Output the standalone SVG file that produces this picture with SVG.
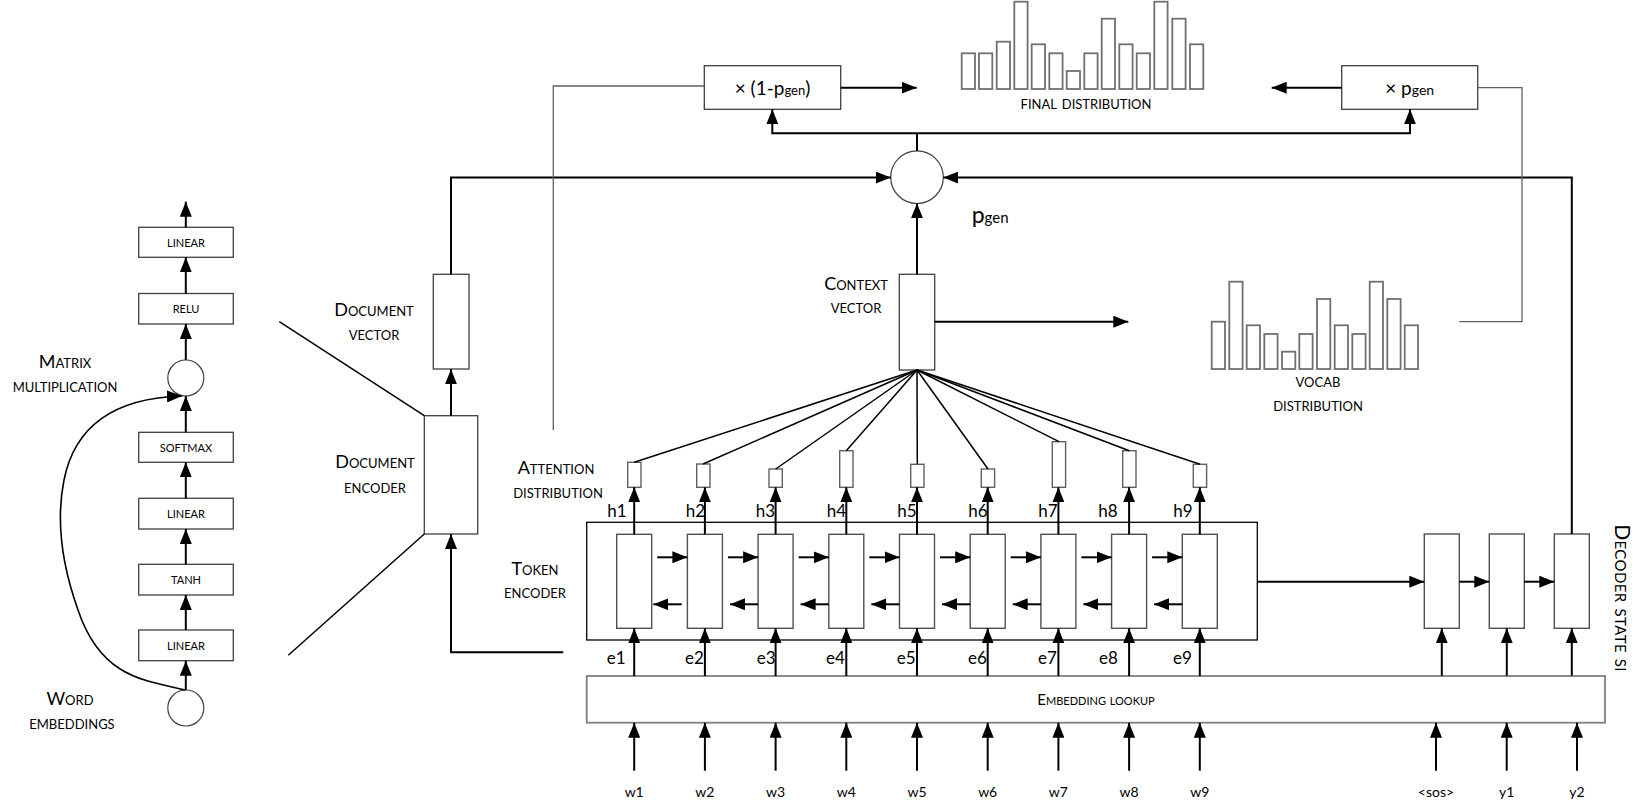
<svg xmlns="http://www.w3.org/2000/svg" width="1649" height="812" viewBox="0 0 1649 812">
<style>
text{font-family:Lato,"Liberation Sans",sans-serif;fill:#000}
.lbl{font-size:18px;font-variant:small-caps;text-anchor:middle}
.dlbl{font-size:19px;font-variant:small-caps;text-anchor:middle}
.blbl{font-size:15px;font-variant:small-caps;text-anchor:middle}
.var{font-size:17px}
.wv{font-size:14px;text-anchor:middle}
.box{fill:#fff;stroke:#404040;stroke-width:1.3}
.cell{fill:#fff;stroke:#505050;stroke-width:1.4}
.att{fill:#fff;stroke:#606060;stroke-width:1.4}
.bar{fill:#fff;stroke:#707070;stroke-width:1.8}
.circ{fill:#fff;stroke:#404040;stroke-width:1.2}
.con{fill:none;stroke:#000;stroke-width:2}
.arr{fill:none;stroke:#000;stroke-width:2;marker-end:url(#ah)}
.thin{fill:none;stroke:#606060;stroke-width:1.3}
.diag{fill:none;stroke:#000;stroke-width:1.5}
</style>
<defs>
<marker id="ah" markerUnits="userSpaceOnUse" markerWidth="16" markerHeight="12" refX="15" refY="6" orient="auto"><path d="M0,0 L15,6 L0,12 z" fill="#000"/></marker>
</defs>
<rect width="1649" height="812" fill="#fff"/>

<g id="mlp-linear3"><rect class="box" x="138.7" y="227.3" width="94.6" height="30"/><text class="blbl" x="186" y="246.7">linear</text></g>
<g id="mlp-relu"><rect class="box" x="138.7" y="293.5" width="94.6" height="30.5"/><text class="blbl" x="186" y="313.2">relu</text></g>
<g id="mlp-matmul"><circle class="circ" cx="185.8" cy="378" r="18"/></g>
<g id="mlp-softmax"><rect class="box" x="138.7" y="432.3" width="94.6" height="30"/><text class="blbl" x="186" y="451.7">softmax</text></g>
<g id="mlp-linear2"><rect class="box" x="138.7" y="498.3" width="94.6" height="30.7"/><text class="blbl" x="186" y="518">linear</text></g>
<g id="mlp-tanh"><rect class="box" x="138.7" y="564.3" width="94.6" height="30.7"/><text class="blbl" x="186" y="584">tanh</text></g>
<g id="mlp-linear1"><rect class="box" x="138.7" y="630" width="94.6" height="30.7"/><text class="blbl" x="186" y="649.7">linear</text></g>
<g id="mlp-embed"><circle class="circ" cx="185.8" cy="708" r="18"/></g>
<g id="label-matrix"><text class="lbl" x="65" y="368">Matrix</text><text class="lbl" x="65" y="391.7">multiplication</text></g>
<g id="label-word"><text class="lbl" x="70" y="705">Word</text><text class="lbl" x="72" y="728.5">embeddings</text></g>

<g id="doc-encoder"><rect class="box" x="424.3" y="415.7" width="53.4" height="118.3"/><text class="lbl" x="375" y="468.3">Document</text><text class="lbl" x="375" y="492.7">encoder</text></g>
<g id="doc-vector"><rect class="box" x="433.3" y="274.3" width="35.7" height="94.7"/><text class="lbl" x="374" y="315.7">Document</text><text class="lbl" x="374" y="340">vector</text></g>

<g id="token-encoder"><rect fill="none" stroke="#000" stroke-width="1.3" x="586.7" y="522.3" width="670.6" height="117.7"/>
<rect class="cell" x="616.7" y="534.3" width="35" height="94"/>
<rect class="cell" x="687.4" y="534.3" width="35" height="94"/>
<rect class="cell" x="758.1" y="534.3" width="35" height="94"/>
<rect class="cell" x="828.8" y="534.3" width="35" height="94"/>
<rect class="cell" x="899.5" y="534.3" width="35" height="94"/>
<rect class="cell" x="970.2" y="534.3" width="35" height="94"/>
<rect class="cell" x="1040.9" y="534.3" width="35" height="94"/>
<rect class="cell" x="1111.6" y="534.3" width="35" height="94"/>
<rect class="cell" x="1182.3" y="534.3" width="35" height="94"/>
<text class="lbl" x="535" y="575">Token</text><text class="lbl" x="535" y="598">encoder</text></g>

<g id="attention">
<rect class="att" x="627.7" y="462.3" width="13.3" height="25"/>
<rect class="att" x="696.7" y="464" width="13.3" height="23.3"/>
<rect class="att" x="769" y="469" width="13.3" height="18.3"/>
<rect class="att" x="839.7" y="450.7" width="13.3" height="36.6"/>
<rect class="att" x="910.7" y="464.3" width="13.3" height="23"/>
<rect class="att" x="981.3" y="469" width="13.3" height="18.3"/>
<rect class="att" x="1052.3" y="441.7" width="13.3" height="45.6"/>
<rect class="att" x="1122.7" y="450.7" width="13.3" height="36.6"/>
<rect class="att" x="1193.3" y="464.3" width="13.3" height="23"/>
<text class="lbl" x="556" y="474">Attention</text><text class="lbl" x="558" y="497.7">distribution</text></g>

<g id="h-labels">
<text class="var" x="607.3" y="516.7">h1</text><text class="var" x="685.7" y="516.7">h2</text><text class="var" x="755.7" y="516.7">h3</text><text class="var" x="826.7" y="516.7">h4</text><text class="var" x="897.3" y="516.7">h5</text><text class="var" x="968.3" y="516.7">h6</text><text class="var" x="1038.3" y="516.7">h7</text><text class="var" x="1098.3" y="516.7">h8</text><text class="var" x="1173.3" y="516.7">h9</text>
</g>
<g id="e-labels">
<text class="var" x="606.7" y="664">e1</text><text class="var" x="685" y="664">e2</text><text class="var" x="756.7" y="664">e3</text><text class="var" x="826" y="664">e4</text><text class="var" x="896.7" y="664">e5</text><text class="var" x="968" y="664">e6</text><text class="var" x="1038" y="664">e7</text><text class="var" x="1099" y="664">e8</text><text class="var" x="1173" y="664">e9</text>
</g>

<g id="embedding-lookup"><rect fill="#fff" stroke="#808080" stroke-width="1.8" x="586.7" y="676" width="1018.3" height="46.7"/><text class="blbl" x="1096" y="704.5">Embedding lookup</text></g>

<g id="w-labels">
<text class="wv" x="634.2" y="797">w1</text><text class="wv" x="704.9" y="797">w2</text><text class="wv" x="775.6" y="797">w3</text><text class="wv" x="846.3" y="797">w4</text><text class="wv" x="917" y="797">w5</text><text class="wv" x="987.7" y="797">w6</text><text class="wv" x="1058.4" y="797">w7</text><text class="wv" x="1129.1" y="797">w8</text><text class="wv" x="1199.8" y="797">w9</text>
<text class="wv" x="1436" y="797">&lt;sos&gt;</text><text class="wv" x="1506.7" y="797">y1</text><text class="wv" x="1577" y="797">y2</text>
</g>

<g id="decoder">
<rect class="cell" x="1424.3" y="534" width="35" height="94.3"/>
<rect class="cell" x="1489.3" y="534" width="35" height="94.3"/>
<rect class="cell" x="1554.3" y="534" width="35" height="94.3"/>
<text class="lbl" style="font-size:21px;letter-spacing:0.4px" transform="translate(1615,598) rotate(90)">Decoder state si</text>
</g>

<g id="context-vector"><rect class="box" x="899.3" y="274.3" width="35.4" height="95.7"/><text class="lbl" x="856" y="290">Context</text><text class="lbl" x="856" y="313.3">vector</text></g>

<g id="pgen"><circle class="circ" cx="917" cy="177.2" r="26.3"/><text x="971.7" y="223" font-size="23">p<tspan font-size="15">gen</tspan></text></g>

<g id="mult-1-pgen"><rect class="box" x="704.3" y="65.7" width="136.4" height="43.6"/><text x="772.5" y="95" font-size="19" text-anchor="middle">× (1-p<tspan font-size="13">gen</tspan>)</text></g>
<g id="mult-pgen"><rect class="box" x="1341.7" y="65.7" width="136" height="43.6"/><text x="1409.7" y="95" font-size="19" text-anchor="middle">× p<tspan font-size="14">gen</tspan></text></g>

<g id="final-distribution">
<rect class="bar" x="961.7" y="53.3" width="13.3" height="35.7"/>
<rect class="bar" x="979" y="53.3" width="13.3" height="35.7"/>
<rect class="bar" x="996.7" y="41.7" width="13.3" height="47.3"/>
<rect class="bar" x="1014.3" y="1.7" width="13.3" height="87.3"/>
<rect class="bar" x="1031.7" y="44.3" width="13.3" height="44.7"/>
<rect class="bar" x="1049.3" y="53.3" width="13.3" height="35.7"/>
<rect class="bar" x="1066.7" y="71" width="13.3" height="18"/>
<rect class="bar" x="1084.3" y="53.3" width="13.3" height="35.7"/>
<rect class="bar" x="1101.7" y="18.7" width="13.3" height="70.3"/>
<rect class="bar" x="1119.3" y="44.3" width="13.3" height="44.7"/>
<rect class="bar" x="1136.7" y="53.3" width="13.3" height="35.7"/>
<rect class="bar" x="1154.3" y="1.7" width="13.3" height="87.3"/>
<rect class="bar" x="1172.3" y="18.7" width="13.3" height="70.3"/>
<rect class="bar" x="1190" y="44.3" width="13.3" height="44.7"/>
<text class="dlbl" x="1086" y="109">final distribution</text>
</g>

<g id="vocab-distribution">
<rect class="bar" x="1211.7" y="321.7" width="13.3" height="47.3"/>
<rect class="bar" x="1229.3" y="281.7" width="13.3" height="87.3"/>
<rect class="bar" x="1246.7" y="325.3" width="13.3" height="43.7"/>
<rect class="bar" x="1264.3" y="334" width="13.3" height="35"/>
<rect class="bar" x="1282" y="351.7" width="13.3" height="17.3"/>
<rect class="bar" x="1299.3" y="334" width="13.3" height="35"/>
<rect class="bar" x="1317" y="299" width="13.3" height="70"/>
<rect class="bar" x="1334.7" y="325.3" width="13.3" height="43.7"/>
<rect class="bar" x="1352.3" y="334" width="13.3" height="35"/>
<rect class="bar" x="1369.7" y="281.7" width="13.3" height="87.3"/>
<rect class="bar" x="1387.3" y="299" width="13.3" height="70"/>
<rect class="bar" x="1404.7" y="325.3" width="13.3" height="43.7"/>
<text class="dlbl" x="1318" y="387">vocab</text><text class="dlbl" x="1318" y="411">distribution</text>
</g>

<g id="connectors">
<path class="arr" d="M185.8,227.3 V201.7"/>
<path class="arr" d="M185.8,293.5 V257.3"/>
<path class="arr" d="M185.8,360 V324"/>
<path class="arr" d="M185.8,432.3 V396"/>
<path class="arr" d="M185.8,498.3 V462.3"/>
<path class="arr" d="M185.8,564.3 V529"/>
<path class="arr" d="M185.8,630 V595"/>
<path class="arr" d="M185.8,690 V660.7"/>
<path class="arr" style="stroke-width:1.6" d="M185,690 C140,680 100,675 78,610 C62,565 56,520 64,480 C75,425 115,398 182,396"/>
<path class="diag" d="M279.3,321.7 L424.3,415.7"/>
<path class="diag" d="M288.3,655.3 L424.3,534"/>
<path class="arr" d="M563.3,652.3 H451 V534"/>
<path class="arr" d="M451,415.7 V369.3"/>
<path class="arr" d="M451,274.3 V177.5 H890.7"/>
<path class="thin" d="M553.3,430 V86 H704.3"/>
<path class="arr" d="M917,274.3 V203.3"/>
<path class="arr" d="M1571.8,534 V177.5 H943.3"/>
<path class="con" d="M917,151 V133.3"/>
<path class="arr" d="M917,133.3 H772.3 V109.3"/>
<path class="arr" d="M917,133.3 H1410 V109.3"/>
<path class="arr" d="M840.7,87.7 H916.7"/>
<path class="arr" d="M1341.7,87.7 H1271.7"/>
<path class="thin" d="M1477.7,87.7 H1522 V321.7 H1459.3"/>
<path class="arr" d="M934.7,321.7 H1128.3"/>
<g class="diag">
<path d="M634.3,462.3 L917,370"/>
<path d="M703,464 L917,370"/>
<path d="M775.7,469 L917,370"/>
<path d="M846.3,450.7 L917,370"/>
<path d="M917.3,464.3 L917,370"/>
<path d="M988,469 L917,370"/>
<path d="M1059,441.7 L917,370"/>
<path d="M1129.3,450.7 L917,370"/>
<path d="M1200,464.3 L917,370"/>
</g>
<path class="arr" d="M634.2,534.3 V487.3"/>
<path class="arr" d="M704.9,534.3 V487.3"/>
<path class="arr" d="M775.6,534.3 V487.3"/>
<path class="arr" d="M846.3,534.3 V487.3"/>
<path class="arr" d="M917,534.3 V487.3"/>
<path class="arr" d="M987.7,534.3 V487.3"/>
<path class="arr" d="M1058.4,534.3 V487.3"/>
<path class="arr" d="M1129.1,534.3 V487.3"/>
<path class="arr" d="M1199.8,534.3 V487.3"/>
<path class="arr" d="M657.2,557.3 H687.4"/>
<path class="arr" d="M727.9,557.3 H758.1"/>
<path class="arr" d="M798.6,557.3 H828.8"/>
<path class="arr" d="M869.3,557.3 H899.5"/>
<path class="arr" d="M940,557.3 H970.2"/>
<path class="arr" d="M1010.7,557.3 H1040.9"/>
<path class="arr" d="M1081.4,557.3 H1111.6"/>
<path class="arr" d="M1152.1,557.3 H1182.3"/>
<path class="arr" d="M681.7,604.3 H653.3"/>
<path class="arr" d="M758.1,604.3 H730"/>
<path class="arr" d="M828.8,604.3 H800.6"/>
<path class="arr" d="M899.5,604.3 H871.3"/>
<path class="arr" d="M970.2,604.3 H942"/>
<path class="arr" d="M1040.9,604.3 H1012.7"/>
<path class="arr" d="M1111.6,604.3 H1083.4"/>
<path class="arr" d="M1182.3,604.3 H1154.1"/>
<path class="arr" d="M634.2,676 V628.3"/>
<path class="arr" d="M704.9,676 V628.3"/>
<path class="arr" d="M775.6,676 V628.3"/>
<path class="arr" d="M846.3,676 V628.3"/>
<path class="arr" d="M917,676 V628.3"/>
<path class="arr" d="M987.7,676 V628.3"/>
<path class="arr" d="M1058.4,676 V628.3"/>
<path class="arr" d="M1129.1,676 V628.3"/>
<path class="arr" d="M1199.8,676 V628.3"/>
<path class="arr" d="M634.2,770.7 V722.7"/>
<path class="arr" d="M704.9,770.7 V722.7"/>
<path class="arr" d="M775.6,770.7 V722.7"/>
<path class="arr" d="M846.3,770.7 V722.7"/>
<path class="arr" d="M917,770.7 V722.7"/>
<path class="arr" d="M987.7,770.7 V722.7"/>
<path class="arr" d="M1058.4,770.7 V722.7"/>
<path class="arr" d="M1129.1,770.7 V722.7"/>
<path class="arr" d="M1199.8,770.7 V722.7"/>
<path class="arr" d="M1257.3,581.7 H1424.3"/>
<path class="arr" d="M1459.3,581.7 H1489.3"/>
<path class="arr" d="M1524.3,581.7 H1554.3"/>
<path class="arr" d="M1441.8,675.7 V628.3"/>
<path class="arr" d="M1506.8,675.7 V628.3"/>
<path class="arr" d="M1571.8,675.7 V628.3"/>
<path class="arr" d="M1436,770.7 V722.7"/>
<path class="arr" d="M1506.7,770.7 V722.7"/>
<path class="arr" d="M1577,770.7 V722.7"/>
</g>
</svg>
